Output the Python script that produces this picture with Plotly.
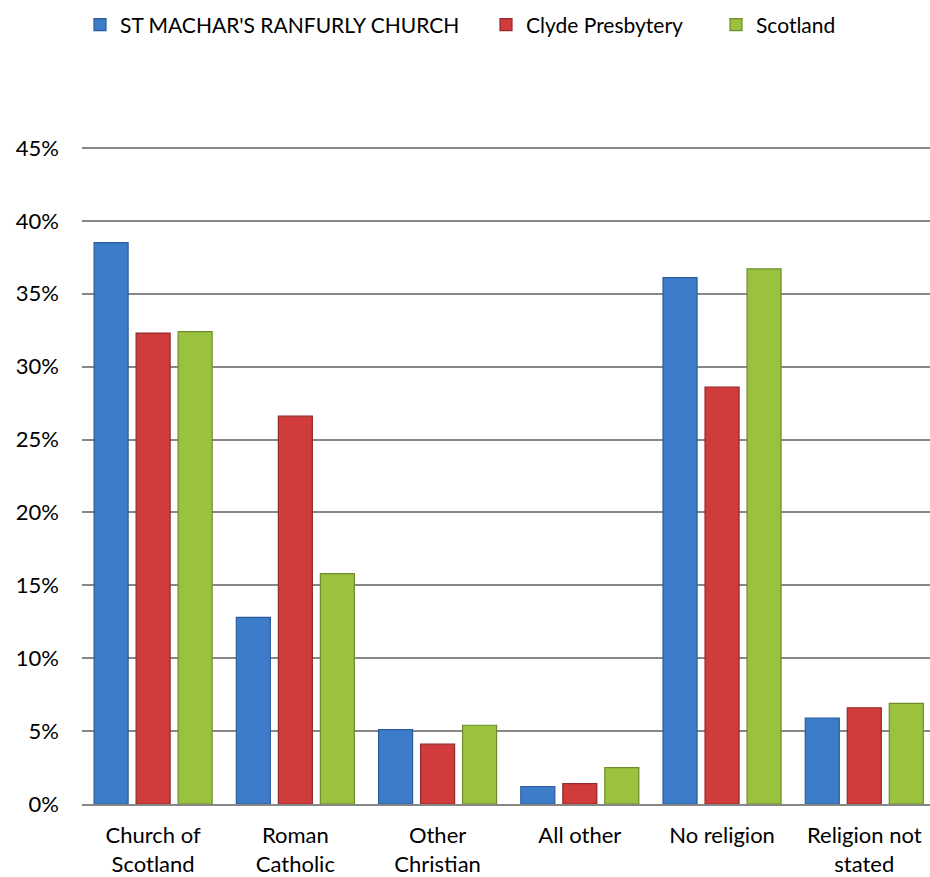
import plotly.graph_objects as go

categories = ["Church of<br>Scotland", "Roman<br>Catholic", "Other<br>Christian",
              "All other", "No religion", "Religion not<br>stated"]
series_names = ["ST MACHAR'S RANFURLY CHURCH", "Clyde Presbytery", "Scotland"]
st_machar = [0.385, 0.128, 0.051, 0.012, 0.361, 0.059]
clyde = [0.323, 0.266, 0.041, 0.014, 0.286, 0.066]
scotland = [0.324, 0.158, 0.054, 0.025, 0.367, 0.069]
y_ticks = [0, 0.05, 0.10, 0.15, 0.20, 0.25, 0.30, 0.35, 0.40, 0.45]

fills = ["#3d7cc9", "#d03c3c", "#9bc23f"]
edges = ["#2b5c9c", "#922a2a", "#6d8c2a"]
legend_ids = ["legend", "legend2", "legend3"]
legend_x_px = [80, 486, 716]

FONT = "Lato"
FS = 22
fig = go.Figure()
for name, vals, fc, ec, lid in zip(series_names, [st_machar, clyde, scotland], fills, edges, legend_ids):
    fig.add_trace(go.Bar(
        x=categories, y=vals, name=name, legend=lid,
        marker=dict(color=fc, line=dict(color=ec, width=1.2)),
    ))

layout_legends = {}
for lid, lx in zip(legend_ids, legend_x_px):
    layout_legends[lid] = dict(
        orientation="h", xref="container", yref="container",
        x=lx / 930, y=1 - 25 / 877, xanchor="left", yanchor="middle",
        font=dict(family=FONT, size=21, color="#000000"),
        itemwidth=30, bgcolor="rgba(0,0,0,0)",
    )

fig.update_layout(
    width=930, height=877,
    paper_bgcolor="white", plot_bgcolor="white",
    margin=dict(l=82, r=0, t=145, b=73, autoexpand=False),
    barmode="group", bargap=0.114, bargroupgap=0.19,
    font=dict(family=FONT, size=FS, color="#000000"),
    showlegend=True,
    **layout_legends,
)
fig.update_xaxes(range=[-0.5, 5.462], showline=True, linecolor="#878787", linewidth=2,
                 ticks="", showgrid=False, tickfont=dict(size=FS), ticklabelstandoff=11)
fig.update_yaxes(range=[0, 0.452], tickvals=y_ticks, tickformat=".0%",
                 showgrid=True, gridcolor="#878787", gridwidth=1.5,
                 zeroline=False, showline=False, ticks="",
                 tickfont=dict(size=FS), ticklabelstandoff=22)

fig.write_html("out.html", config={"displayModeBar": False},
               post_script="document.body.style.margin='0px';")
